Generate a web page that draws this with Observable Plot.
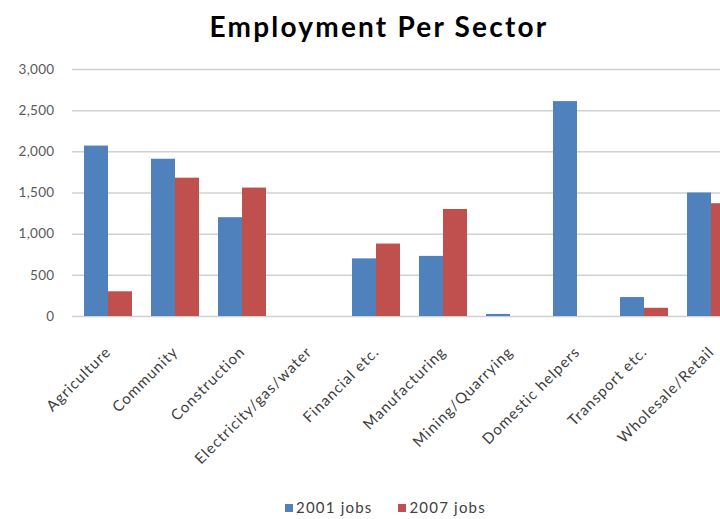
<!DOCTYPE html>
<html>
<head>
<meta charset="utf-8">
<script src="https://cdn.jsdelivr.net/npm/d3@7"></script>
<script src="https://cdn.jsdelivr.net/npm/@observablehq/plot@0.6"></script>
<style>
  html, body { margin: 0; padding: 0; background: #fff; overflow: hidden; }
  #wrap { width: 720px; height: 519px; overflow: hidden; position: relative; font-family: Lato, "Open Sans", sans-serif; }
  #title { height: 50px; line-height: 52px; text-align: center; font-size: 28px; letter-spacing: 2.2px; font-weight: bold; color: #000; padding-left: 38px; box-sizing: border-box; }
  #legend { position: absolute; top: 497px; left: 285px; white-space: nowrap; font-size: 15px; letter-spacing: 1.2px; color: #404040; line-height: 20px; }
  #legend span.sw { display: inline-block; width: 8px; height: 8px; margin-right: 3px; vertical-align: 1px; }
  #legend span.item { margin-right: 26px; }
  #chart svg { overflow: hidden; display: block; }
  #chart g[aria-label="x-axis tick label"] { font-size: 15px; letter-spacing: 1px; fill: #404040; }
  #chart g[aria-label="y-axis tick label"] { font-size: 13.5px; letter-spacing: 0.3px; fill: #595959; }
</style>
</head>
<body>
<div id="wrap">
  <div id="title">Employment Per Sector</div>
  <div id="chart"></div>
  <div id="legend"></div>
</div>
<script>
const sectors = ["Agriculture", "Community", "Construction", "Electricity/gas/water", "Financial etc.", "Manufacturing", "Mining/Quarrying", "Domestic helpers", "Transport etc.", "Wholesale/Retail"];
const jobs2001 = [2070, 1910, 1200, 0, 700, 730, 25, 2610, 230, 1500];
const jobs2007 = [300, 1680, 1560, 0, 880, 1300, 0, 0, 100, 1370];
const seriesNames = ["2001 jobs", "2007 jobs"];
const seriesColors = ["#4F81BD", "#C0504D"];
const yTicks = [0, 500, 1000, 1500, 2000, 2500, 3000];

const rows = sectors.map((s, i) => ({sector: s, a: jobs2001[i], b: jobs2007[i]}));

const chart = Plot.plot({
  width: 720,
  height: 440,
  marginTop: 19,
  marginLeft: 72,
  marginRight: -27,
  marginBottom: 174,
  style: {fontFamily: "Lato, 'Open Sans', sans-serif", fontSize: "14px", color: "#404040", background: "#fff", overflow: "hidden"},
  x: {domain: sectors, paddingInner: 0.286, paddingOuter: 0.164, label: null, tickSize: 0, tickPadding: 33, tickRotate: -45},
  y: {domain: [0, 3000], ticks: yTicks, tickFormat: d3.format(","), label: null, tickSize: 0, tickPadding: 18},
  marks: [
    Plot.gridY(yTicks, {stroke: "#d0d0d0", strokeOpacity: 1, strokeWidth: 1.5}),
    Plot.barY(rows, {x: "sector", y: "a", fill: seriesColors[0], insetRight: 24}),
    Plot.barY(rows, {x: "sector", y: "b", fill: seriesColors[1], insetLeft: 24})
  ]
});
document.getElementById("chart").appendChild(chart);

const legend = document.getElementById("legend");
seriesNames.forEach((n, i) => {
  const item = document.createElement("span");
  item.className = "item";
  const sw = document.createElement("span");
  sw.className = "sw";
  sw.style.background = seriesColors[i];
  item.appendChild(sw);
  item.appendChild(document.createTextNode(n));
  legend.appendChild(item);
});
</script>
</body>
</html>
